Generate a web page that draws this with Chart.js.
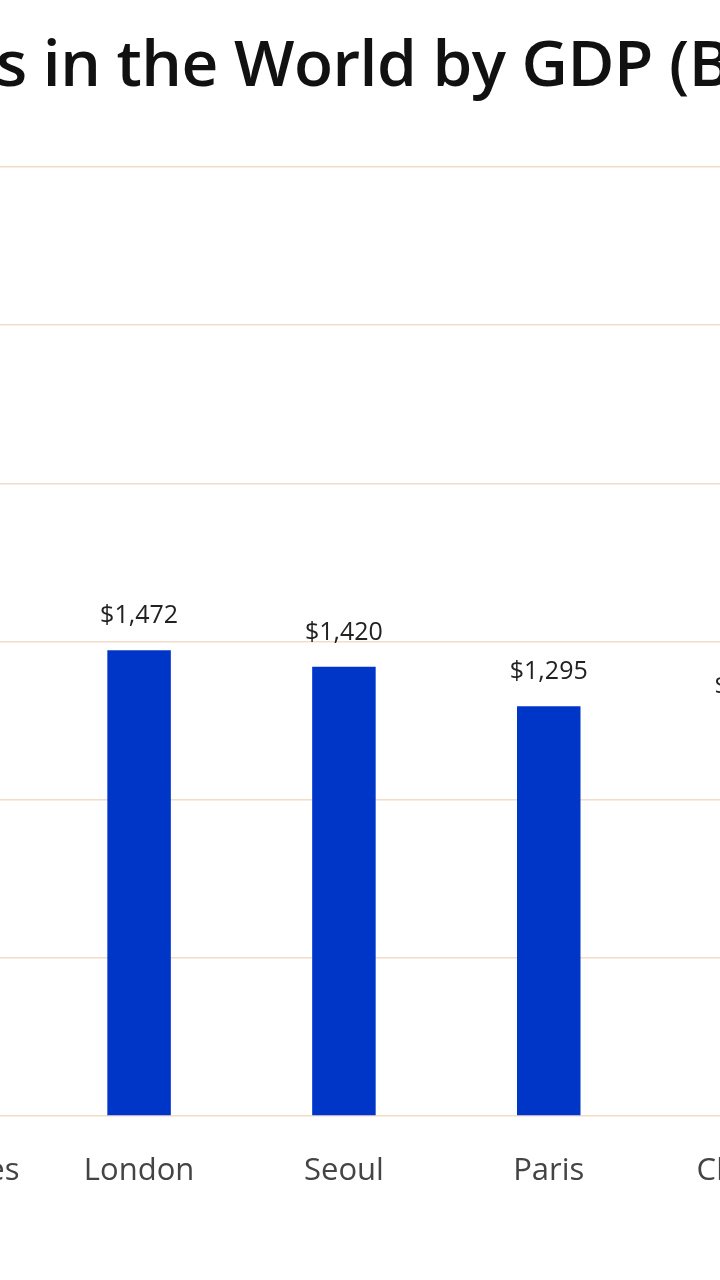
<!DOCTYPE html>
<html><head><meta charset="utf-8">
<script src="https://cdn.jsdelivr.net/npm/chart.js@4"></script>
<style>
html,body{margin:0;padding:0;width:720px;height:1280px;overflow:hidden;background:#fff;position:relative;font-family:"Open Sans",sans-serif}
#t{position:absolute;left:-4px;top:18px;white-space:nowrap;font:600 64px "Open Sans",sans-serif;color:#111;letter-spacing:-0.5px}
#t span{position:absolute;right:100%}
#w{position:absolute;left:-180px;top:0;width:1036px;height:1280px}
</style></head><body>
<div id="t"><span>Largest Citie</span>s in the World by GDP (Billions)</div>
<div id="w"><canvas id="c"></canvas></div>
<script>
const categories=["Los Angeles","London","Seoul","Paris","Chicago"];
const gdp=[1620,1472,1420,1295,1250];
const yTicks=[0,500,1000,1500,2000,2500,3000];
const labelsPlugin={id:'lbl',afterDatasetsDraw(ch){const ctx=ch.ctx;const m=ch.getDatasetMeta(0);ctx.save();ctx.font='25px "Open Sans",sans-serif';ctx.fillStyle='#222';ctx.textAlign='center';ctx.textBaseline='alphabetic';m.data.forEach((b,i)=>{ctx.fillText('$'+gdp[i].toLocaleString('en-US'),b.x,b.y-27);});ctx.restore();}};
new Chart(document.getElementById('c'),{type:'bar',
data:{labels:categories,datasets:[{data:gdp,backgroundColor:'#0036c8',barPercentage:0.31,categoryPercentage:1}]},
options:{responsive:true,maintainAspectRatio:false,animation:false,
layout:{padding:{top:167,bottom:64,left:0,right:0}},
plugins:{legend:{display:false},tooltip:{enabled:false}},
scales:{
x:{grid:{display:false},border:{display:false},ticks:{padding:29,color:'#444',font:{size:31,family:'"Open Sans",sans-serif'}},afterFit(s){s.height=100;}},
y:{min:0,max:3000,afterBuildTicks(s){s.ticks=yTicks.map(v=>({value:v}));},grid:{color:'#f3dcc8',lineWidth:1.5,drawTicks:false},border:{display:false},ticks:{display:false},afterFit(s){s.width=0;}}
}},plugins:[labelsPlugin]});
</script></body></html>
